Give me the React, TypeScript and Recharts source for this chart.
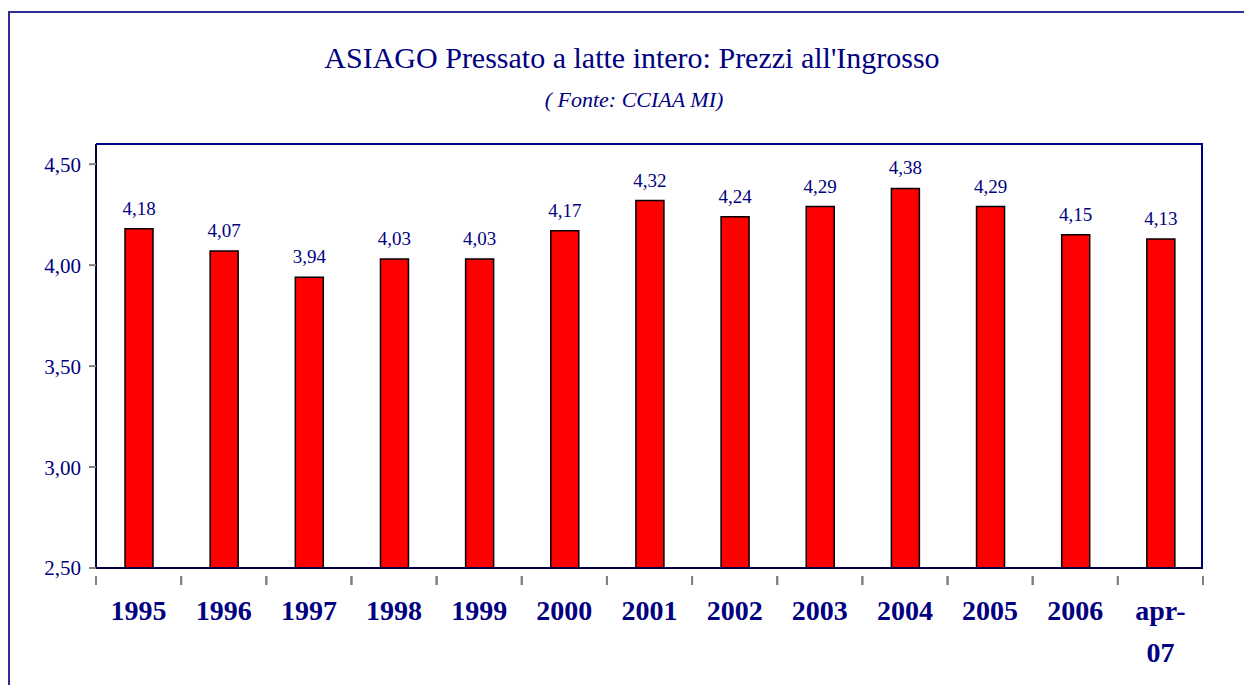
import React from 'react';
import { BarChart, Bar, XAxis, YAxis, LabelList } from 'recharts';

const years = ['1995', '1996', '1997', '1998', '1999', '2000', '2001', '2002', '2003', '2004', '2005', '2006', 'apr-07'];
const prices = [4.18, 4.07, 3.94, 4.03, 4.03, 4.17, 4.32, 4.24, 4.29, 4.38, 4.29, 4.15, 4.13];
const yTicks = [2.5, 3, 3.5, 4, 4.5];

const data = years.map((year, i) => ({ year, price: prices[i] }));

const W = 1244;
const H = 685;
const Y_W = 60;
const X_H = 60;
const margin = { top: 144, right: 41, left: 36, bottom: 57 };
const plotW = W - margin.left - Y_W - margin.right;
const plotH = H - margin.top - margin.bottom - X_H;
const band = plotW / years.length;

const NAVY = '#000080';
const FONT = '"Liberation Serif", "Times New Roman", serif';
const fmt = (v: number) => v.toFixed(2).replace('.', ',');

const YearTick = (props: any) => {
  const { x, y, payload } = props;
  const parts = String(payload.value).includes('-')
    ? [payload.value.split('-')[0] + '-', payload.value.split('-')[1]]
    : [payload.value];
  return (
    <g>
      <line x1={x - band / 2} y1={y} x2={x - band / 2} y2={y + 9} stroke="#808080" strokeWidth={2} />
      <line x1={x + band / 2} y1={y} x2={x + band / 2} y2={y + 9} stroke="#808080" strokeWidth={2} />
      <text x={x} y={y + 44} textAnchor="middle" fill={NAVY} fontFamily={FONT} fontWeight="bold" fontSize={28}>
        {parts.map((p: string, i: number) => (
          <tspan key={i} x={x} dy={i === 0 ? 0 : 42}>{p}</tspan>
        ))}
      </text>
    </g>
  );
};

export default function App() {
  return (
    <div style={{ position: 'absolute', left: 0, top: 0, width: W, height: H, overflow: 'hidden', background: '#fff' }}>
      <div style={{ position: 'absolute', left: 8, top: 11, width: 1260, height: 700, border: '2px solid #2e2e96' }} />
      <div style={{ position: 'absolute', left: 10, width: W, top: 40, textAlign: 'center', color: NAVY, fontFamily: FONT, fontSize: 30, lineHeight: '36px' }}>
        ASIAGO Pressato a latte intero: Prezzi all'Ingrosso
      </div>
      <div style={{ position: 'absolute', left: 12, width: W, top: 87, textAlign: 'center', color: NAVY, fontFamily: FONT, fontSize: 22, fontStyle: 'italic', lineHeight: '26px' }}>
        ( Fonte: CCIAA MI)
      </div>
      <div style={{ position: 'absolute', left: 0, top: 0 }}>
        <BarChart width={W} height={H} data={data} margin={margin}>
          <XAxis
            dataKey="year"
            height={X_H}
            axisLine={{ stroke: '#000040', strokeWidth: 2 }}
            tickLine={false}
            tick={<YearTick />}
            interval={0}
          />
          <YAxis
            domain={[2.5, 4.6]}
            ticks={yTicks}
            width={Y_W}
            interval={0}
            tickFormatter={fmt}
            axisLine={{ stroke: '#000040', strokeWidth: 2 }}
            tickLine={{ stroke: '#808080', strokeWidth: 2 }}
            tickSize={7}
            tick={{ fill: NAVY, fontFamily: FONT, fontSize: 21, dx: -6 }}
            allowDataOverflow
          />
          <Bar dataKey="price" fill="#FF0000" stroke="#000000" strokeWidth={1.5} barSize={28} isAnimationActive={false}>
            <LabelList dataKey="price" position="top" offset={14} formatter={(v: any) => fmt(Number(v))} fill={NAVY} fontFamily={FONT} fontSize={19} />
          </Bar>
        </BarChart>
      </div>
      <div
        style={{
          position: 'absolute',
          left: margin.left + Y_W,
          top: margin.top - 1,
          width: plotW,
          height: plotH,
          borderTop: `2px solid ${NAVY}`,
          borderRight: `2px solid ${NAVY}`,
          boxSizing: 'border-box',
          pointerEvents: 'none',
        }}
      />
    </div>
  );
}
